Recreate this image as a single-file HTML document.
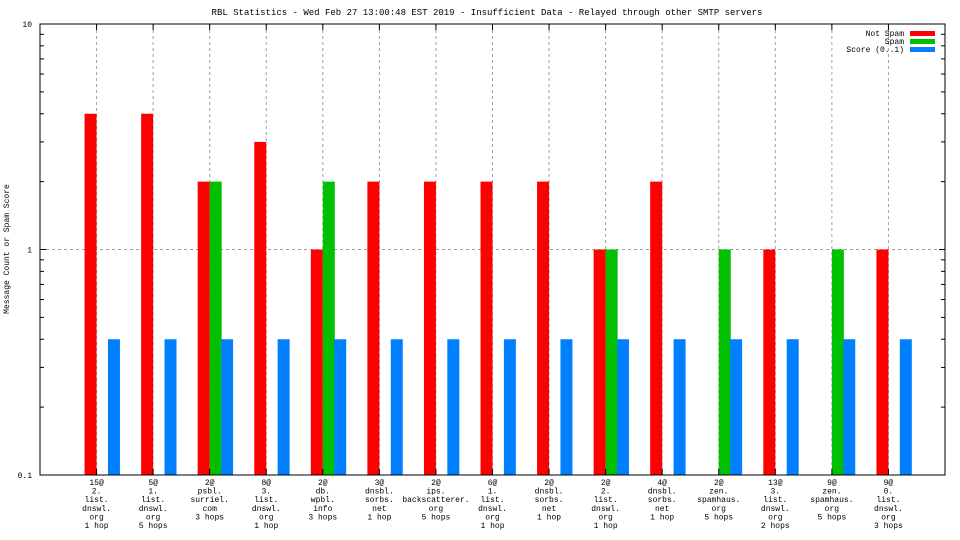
<!DOCTYPE html>
<html><head><meta charset="utf-8"><style>
body{margin:0;background:#fff;}
svg{display:block;font-family:"Liberation Mono",monospace;}
</style></head><body>
<svg id="chart" width="960" height="540" viewBox="0 0 960 540">
<text x="487" y="15" font-size="9" text-anchor="middle">RBL Statistics - Wed Feb 27 13:00:48 EST 2019 - Insufficient Data - Relayed through other SMTP servers</text>
<text x="9" y="249" font-size="8" text-anchor="middle" transform="rotate(-90 9 249)">Message Count or Spam Score</text>
<g id="grid"></g>
<g id="bars"></g>
<g id="axes"></g>
<g>
<text x="904" y="36" font-size="8" text-anchor="end">Not Spam</text>
<rect x="910" y="31" width="25" height="5" fill="#ff0000"/>
<text x="904" y="44" font-size="8" text-anchor="end">Spam</text>
<rect x="910" y="39" width="25" height="5" fill="#00c000"/>
<text x="904" y="52" font-size="8" text-anchor="end">Score (0..1)</text>
<rect x="910" y="47" width="25" height="5" fill="#0080ff"/>
</g>
</svg>
<script>
const categories=[["15@","2.","list.","dnswl.","org","1 hop"],["5@","1.","list.","dnswl.","org","5 hops"],["2@","psbl.","surriel.","com","3 hops"],["8@","3.","list.","dnswl.","org","1 hop"],["2@","db.","wpbl.","info","3 hops"],["3@","dnsbl.","sorbs.","net","1 hop"],["2@","ips.","backscatterer.","org","5 hops"],["6@","1.","list.","dnswl.","org","1 hop"],["2@","dnsbl.","sorbs.","net","1 hop"],["2@","2.","list.","dnswl.","org","1 hop"],["4@","dnsbl.","sorbs.","net","1 hop"],["2@","zen.","spamhaus.","org","5 hops"],["13@","3.","list.","dnswl.","org","2 hops"],["9@","zen.","spamhaus.","org","5 hops"],["9@","0.","list.","dnswl.","org","3 hops"]];
const notSpam=[4,4,2,3,1,2,2,2,2,1,2,0,1,0,1];
const spam=[0,0,2,0,2,0,0,0,0,1,0,1,0,1,0];
const score=[0.4,0.4,0.4,0.4,0.4,0.4,0.4,0.4,0.4,0.4,0.4,0.4,0.4,0.4,0.4];
const yTicks=[0.1,1,10];
const yTickLabels=["0.1","1","10"];
const NS="http://www.w3.org/2000/svg";
const L=40,R=945,T=24,B=475;
const yMin=0.1,yMax=10;
function y(v){return B-(Math.log10(v)-Math.log10(yMin))/(Math.log10(yMax)-Math.log10(yMin))*(B-T);}
function x(i){return L+(i+1)*(R-L)/(categories.length+1);}
function mk(tag,attrs,parent){const e=document.createElementNS(NS,tag);for(const k in attrs)e.setAttribute(k,attrs[k]);parent.appendChild(e);return e;}
const grid=document.getElementById('grid'),bars=document.getElementById('bars'),axes=document.getElementById('axes');
categories.forEach((c,i)=>{const g=mk('line',{x1:x(i),x2:x(i),y1:T,y2:B,stroke:'#a0a0a0','stroke-dasharray':'3,3'},grid);

});
yTicks.forEach(v=>{if(v>yMin&&v<yMax){const g=mk('line',{x1:L,x2:R,y1:y(v),y2:y(v),stroke:'#a0a0a0','stroke-dasharray':'3,3'},grid);

}});
const bw=(R-L)/(categories.length+1)*0.212;
function bar(v,i,off,col,name){if(!(v>yMin))return;const r=mk('rect',{x:x(i)+off*bw,y:y(v),width:bw,height:B-y(v),fill:col},bars);

}
categories.forEach((c,i)=>{bar(notSpam[i],i,-1,'#ff0000','bar-not-spam');bar(spam[i],i,0,'#00c000','bar-spam');bar(score[i],i,0.95,'#0080ff','bar-score');});
const fr=mk('rect',{x:L,y:T,width:R-L,height:B-T,fill:'none',stroke:'#000','stroke-width':1},axes);


yTicks.forEach((v,k)=>{const t=mk('text',{x:L-8,y:y(v)+3,'font-size':'8','text-anchor':'end'},axes);t.textContent=yTickLabels[k];


mk('line',{x1:L,x2:L+6,y1:y(v),y2:y(v),stroke:'#000'},axes);mk('line',{x1:R,x2:R-6,y1:y(v),y2:y(v),stroke:'#000'},axes);
if(v<yMax){for(let m=2;m<=9;m++){const yy=y(v*m);mk('line',{x1:L,x2:L+4,y1:yy,y2:yy,stroke:'#000'},axes);mk('line',{x1:R,x2:R-4,y1:yy,y2:yy,stroke:'#000'},axes);}}});
categories.forEach((c,i)=>{mk('line',{x1:x(i),x2:x(i),y1:B,y2:B-6,stroke:'#000'},axes);mk('line',{x1:x(i),x2:x(i),y1:T,y2:T+6,stroke:'#000'},axes);
const t=mk('text',{x:x(i),y:B+10,'font-size':'8','text-anchor':'middle'},axes);


c.forEach((s,j)=>{const ts=mk('tspan',{x:x(i),dy:j?8.6:0},t);ts.textContent=s;});});
</script>
</body></html>
